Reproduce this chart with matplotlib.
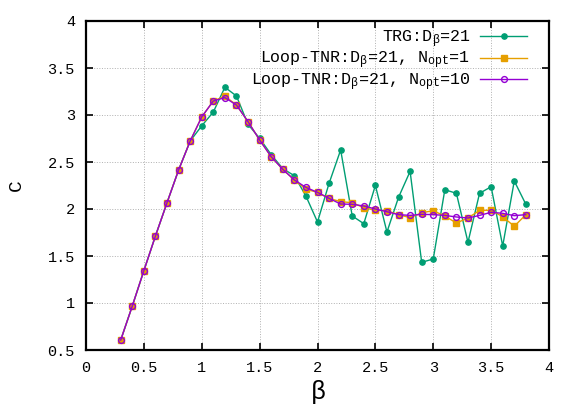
import numpy as np
import matplotlib
matplotlib.use('Agg')
import matplotlib.pyplot as plt

plt.rcParams['font.family'] = ['Liberation Mono', 'DejaVu Sans']
plt.rcParams['mathtext.fontset'] = 'custom'
plt.rcParams['mathtext.rm'] = 'Liberation Mono'
plt.rcParams['mathtext.it'] = 'Liberation Mono'

beta = [0.3, 0.4, 0.5, 0.6, 0.7, 0.8, 0.9, 1.0, 1.1, 1.2, 1.3, 1.4,
        1.5, 1.6, 1.7, 1.8, 1.9, 2.0, 2.1, 2.2, 2.3, 2.4, 2.5, 2.6,
        2.7, 2.8, 2.9, 3.0, 3.1, 3.2, 3.3, 3.4, 3.5, 3.6, 3.7, 3.8]

c_trg = [0.606, 0.968, 1.344, 1.713, 2.067, 2.415, 2.723, 2.885, 3.032, 3.295, 3.202, 2.90,
         2.752, 2.578, 2.43, 2.354, 2.138, 1.862, 2.273, 2.628, 1.926, 1.844, 2.251, 1.755,
         2.124, 2.40, 1.433, 1.468, 2.205, 2.167, 1.646, 2.167, 2.237, 1.606, 2.298, 2.05]

c_loop1 = [0.606, 0.968, 1.344, 1.713, 2.067, 2.415, 2.723, 2.98, 3.149, 3.20, 3.106, 2.929,
           2.734, 2.556, 2.422, 2.309, 2.21, 2.177, 2.113, 2.078, 2.067, 2.014, 1.986, 1.982,
           1.94, 1.908, 1.96, 1.982, 1.925, 1.851, 1.904, 1.986, 1.986, 1.918, 1.816, 1.94]

c_loop10 = [0.606, 0.968, 1.344, 1.713, 2.067, 2.415, 2.723, 2.98, 3.149, 3.185, 3.106, 2.929,
            2.734, 2.556, 2.422, 2.309, 2.23, 2.177, 2.113, 2.053, 2.05, 2.032, 2.0, 1.971,
            1.94, 1.932, 1.943, 1.94, 1.932, 1.915, 1.904, 1.932, 1.965, 1.954, 1.929, 1.94]

fig = plt.figure(figsize=(5.81, 4.07), dpi=100)
ax = fig.add_axes([86 / 581, 57 / 407, 463 / 581, 329 / 407])

ax.plot(beta, c_trg, '-o', color='#009e73', lw=1, ms=3.8,
        label=r'TRG:D$_\beta$=21')
ax.plot(beta, c_loop1, '-s', color='#e69f00', lw=1, ms=3.8,
        label=r'Loop-TNR:D$_\beta$=21, N$_{\rm opt}$=1')
ax.plot(beta, c_loop10, '-o', color='#9400d3', lw=1, ms=4.2, mfc='none', mew=1,
        label=r'Loop-TNR:D$_\beta$=21, N$_{\rm opt}$=10')

ax.set_xlim(0, 4)
ax.set_ylim(0.5, 4)
ax.set_xticks(np.arange(0, 4.01, 0.5))
ax.set_yticks(np.arange(0.5, 4.01, 0.5))
ax.set_xticklabels(['0', '0.5', '1', '1.5', '2', '2.5', '3', '3.5', '4'])
ax.set_yticklabels(['0.5', '1', '1.5', '2', '2.5', '3', '3.5', '4'])
ax.tick_params(direction='in', length=5, width=1.2, top=True, right=True,
               labelsize=11, pad=8)
ax.grid(True, ls=':', lw=0.7, color='#b0b0b0')
for s in ax.spines.values():
    s.set_linewidth(1.6)

ax.set_xlabel(r'$\beta$', fontsize=18, family='DejaVu Serif', labelpad=2)
ax.set_ylabel('C', fontsize=14, labelpad=16)

ax.legend(loc='upper right', bbox_to_anchor=(1 - 22 / 463, 1 - 7 / 329),
          borderaxespad=0, borderpad=0, frameon=False, markerfirst=False,
          fontsize=12, handlelength=2.8, handletextpad=0.6, labelspacing=0.0)

fig.savefig('out.png', dpi=100)
